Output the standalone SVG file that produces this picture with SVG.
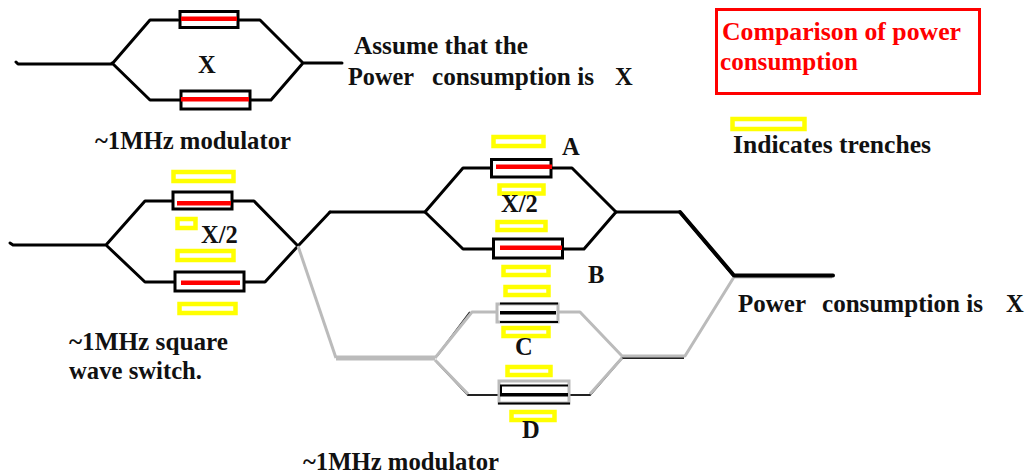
<svg xmlns="http://www.w3.org/2000/svg" width="1028" height="475" viewBox="0 0 1028 475">
<style>
text{font-family:"Liberation Serif","Times New Roman",serif;font-weight:700;font-size:24.500px;fill:#111}
.red{fill:#f00}
.w{fill:none;stroke:#000;stroke-width:3;stroke-linejoin:round;stroke-linecap:round}
.g{fill:none;stroke:#bbb;stroke-width:3;stroke-linejoin:round}
.gt{fill:none;stroke:#bbb;stroke-width:5;stroke-linejoin:round}
.k{fill:none;stroke:#222;stroke-width:2}
.box{fill:#fff;stroke:#000;stroke-width:3}
.core{fill:#f00}
.tr{fill:#fff;stroke:#ff0;stroke-width:4.500}
.gb{fill:#fff;stroke:#bbb;stroke-width:3}
.kc{fill:#000}
</style>
<g id="connectors">
<path class="w" d="M16 62L18 64H112L150 20H178M238 20H260L303 63H342M112 63L150 100H180M250 100H271L303 63"/>
<path class="w" d="M10 243L13 245H106L145 201H172M232 201H254L298 246M106 245L145 282H174M244 282H265L298 246L330 212"/>
<path class="w" d="M330 212H425L463 168H491M551 168H572L616 212H680L734 276"/>
<path class="w" d="M425 212L463 249H493M563 249H584L616 212"/>
<path class="g" d="M298 246L336 358"/>
<path class="k" d="M470 312L437 356M437 362L468 395H498M570 395H590L622 358M580 312H560M622 358H684"/>
<path class="gt" d="M336 358H435"/>
<path class="g" d="M435 358L472 312H497M558 312H580L622 356L685 356L734 277H832M435 360L468 394M590 394L622 358"/>
<path class="w" style="stroke-width:4" d="M680 212L734 275.500H833"/>
</g>
<g id="top-modulator">
<rect class="box" x="180" y="11.500" width="58" height="16"/><rect class="core" x="181" y="16.500" width="56" height="4.500"/>
<rect class="box" x="181" y="91" width="69" height="18"/><rect class="core" x="181" y="97" width="68" height="4.500"/>
<text x="198" y="73">X</text>
<text x="95" y="149" textLength="196" lengthAdjust="spacingAndGlyphs">~1MHz modulator</text>
</g>
<g id="square-wave-switch">
<rect class="box" x="173" y="192" width="59" height="17"/><rect class="core" x="177" y="201" width="54" height="4.500"/>
<rect class="box" x="175" y="272" width="69" height="19"/><rect class="core" x="181" y="280.500" width="59" height="4.500"/>
<rect class="tr" x="173.500" y="172" width="60" height="9"/>
<rect class="tr" x="177.500" y="219" width="18" height="9"/>
<rect class="tr" x="177.500" y="251" width="56" height="9"/>
<rect class="tr" x="179.500" y="304" width="56" height="9"/>
<text x="201" y="243">X/2</text>
<text x="69" y="350" textLength="159" lengthAdjust="spacingAndGlyphs">~1MHz square</text>
<text x="69" y="379" textLength="133" lengthAdjust="spacingAndGlyphs">wave switch.</text>
</g>
<g id="modulator-ab">
<rect class="tr" x="493.500" y="137" width="50" height="9"/>
<rect class="box" x="491.500" y="159.500" width="59.500" height="17.500"/><rect class="core" x="496" y="164.500" width="56" height="4.500"/>
<rect class="tr" x="499.500" y="185.500" width="44" height="8"/>
<rect class="tr" x="497.500" y="222" width="48" height="8"/>
<rect class="box" x="493.500" y="239" width="69" height="19"/><rect class="core" x="500" y="245.500" width="62" height="4.500"/>
<rect class="tr" x="503.500" y="267" width="45" height="8"/>
<rect class="tr" x="505.500" y="287" width="43" height="8"/>
<text x="501" y="212">X/2</text>
<text x="562" y="155">A</text>
<text x="588" y="283">B</text>
</g>
<g id="modulator-cd">
<rect class="gb" x="497" y="304" width="61" height="18"/>
<rect class="kc" x="500" y="302.500" width="58" height="2"/><rect class="kc" x="500" y="311" width="56" height="3.500"/><rect class="kc" x="500" y="321" width="58" height="2"/>
<rect class="tr" x="503.500" y="328" width="45" height="8"/>
<rect class="tr" x="507.500" y="367" width="43" height="8"/>
<rect class="gb" x="499" y="381" width="70" height="22"/>
<rect class="kc" x="500" y="384.500" width="68" height="2"/><rect class="kc" x="500" y="393" width="68" height="3.500"/><rect class="kc" x="498" y="402.500" width="72" height="2"/><rect class="kc" x="500" y="385" width="2" height="11"/>
<rect class="tr" x="511.500" y="412" width="43" height="8"/>
<text x="515" y="355">C</text>
<text x="522" y="438">D</text>
<text x="303" y="470" textLength="196" lengthAdjust="spacingAndGlyphs">~1MHz modulator</text>
</g>
<g id="assumption">
<text x="354" y="54" textLength="174" lengthAdjust="spacingAndGlyphs">Assume that the</text>
<text x="348" y="85" textLength="66" lengthAdjust="spacingAndGlyphs">Power</text>
<text x="432" y="85" textLength="162" lengthAdjust="spacingAndGlyphs">consumption is</text>
<text x="615" y="85">X</text>
</g>
<g id="result">
<text x="738" y="312" textLength="68" lengthAdjust="spacingAndGlyphs">Power</text>
<text x="822" y="312" textLength="161" lengthAdjust="spacingAndGlyphs">consumption is</text>
<text x="1006" y="312">X</text>
</g>
<g id="legend">
<rect x="716.500" y="9.500" width="263" height="84" fill="#fff" stroke="#f00" stroke-width="3"/>
<text class="red" x="722" y="40" textLength="239" lengthAdjust="spacingAndGlyphs">Comparison of power</text>
<text class="red" x="720" y="70" textLength="138" lengthAdjust="spacingAndGlyphs">consumption</text>
<rect class="tr" x="732.500" y="119" width="72" height="10"/>
<text x="733" y="153" textLength="198" lengthAdjust="spacingAndGlyphs">Indicates trenches</text>
</g>
</svg>
